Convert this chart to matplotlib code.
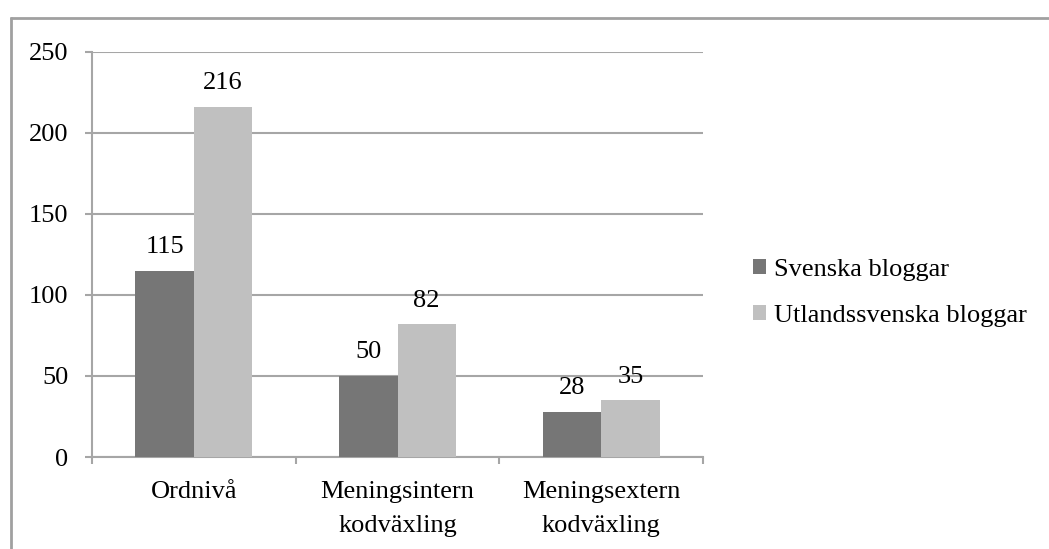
import matplotlib
matplotlib.use("Agg")
import matplotlib.pyplot as plt
import numpy as np
from matplotlib.lines import Line2D
from matplotlib.patches import Patch

plt.rcParams['font.family'] = ['Liberation Serif', 'DejaVu Serif']

categories = ["Ordnivå", "Meningsintern\nkodväxling", "Meningsextern\nkodväxling"]
series_names = ["Svenska bloggar", "Utlandssvenska bloggar"]
svenska = [115, 50, 28]
utlandssvenska = [216, 82, 35]
y_ticks = [0, 50, 100, 150, 200, 250]

colors = ["#767676", "#c0c0c0"]
grid_color = "#a6a6a6"
fs = 19

W, H = 1049, 549
fig = plt.figure(figsize=(W / 100, H / 100), dpi=100)
ax = fig.add_axes([92 / W, 1 - 457 / H, (703 - 92) / W, (457 - 52) / H])

x = np.arange(len(categories))
width = 0.287
for i, (vals, name) in enumerate(zip([svenska, utlandssvenska], series_names)):
    pos = x + (i - 0.5) * width
    ax.bar(pos, vals, width, color=colors[i], label=name, zorder=3)
    for px, v in zip(pos, vals):
        ax.annotate(f"{v}", (px, v), xytext=(0, 17), textcoords="offset points",
                    ha="center", va="center", fontsize=fs, zorder=4)

ax.set_xlim(-0.5, len(categories) - 0.5)
ax.set_ylim(0, 250)
ax.set_yticks(y_ticks)
ax.set_yticklabels([str(t) for t in y_ticks], fontsize=fs)
ax.yaxis.grid(True, color=grid_color, lw=1.5, zorder=0)
ax.set_axisbelow(True)

# category boundary ticks and centered labels
ax.set_xticks(np.arange(len(categories) + 1) - 0.5)
ax.set_xticklabels([])
ax.set_xticks(x, minor=True)
ax.set_xticklabels(categories, minor=True, fontsize=fs, linespacing=1.72)
ax.tick_params(axis="x", which="major", direction="out", length=5, width=1.5, color=grid_color)
ax.tick_params(axis="x", which="minor", length=0, pad=17)
ax.tick_params(axis="y", direction="out", length=5, width=1.5, color=grid_color, pad=12)

for s in ["top", "right"]:
    ax.spines[s].set_visible(False)
for s in ["left", "bottom"]:
    ax.spines[s].set_color(grid_color)
    ax.spines[s].set_linewidth(1.5)

handles = [Patch(facecolor=c, edgecolor="none") for c in colors]
fig.legend(handles, series_names, loc="center left",
           bbox_to_anchor=(753 / W, 1 - 293 / H), frameon=False, fontsize=fs,
           handlelength=0.5, handleheight=0.5, handletextpad=0.3,
           labelspacing=0.9, borderaxespad=0, borderpad=0)

# outer chart frame
frame_color = "#a0a0a0"
fig.add_artist(Line2D([10.5 / W, 10.5 / W], [1 - 17 / H, -0.1], transform=fig.transFigure,
                      color=frame_color, lw=2, solid_capstyle="butt"))
fig.add_artist(Line2D([10 / W, 1.1], [1 - 17.5 / H, 1 - 17.5 / H], transform=fig.transFigure,
                      color=frame_color, lw=2, solid_capstyle="butt"))

fig.savefig("out.png", dpi=100, facecolor="white")
